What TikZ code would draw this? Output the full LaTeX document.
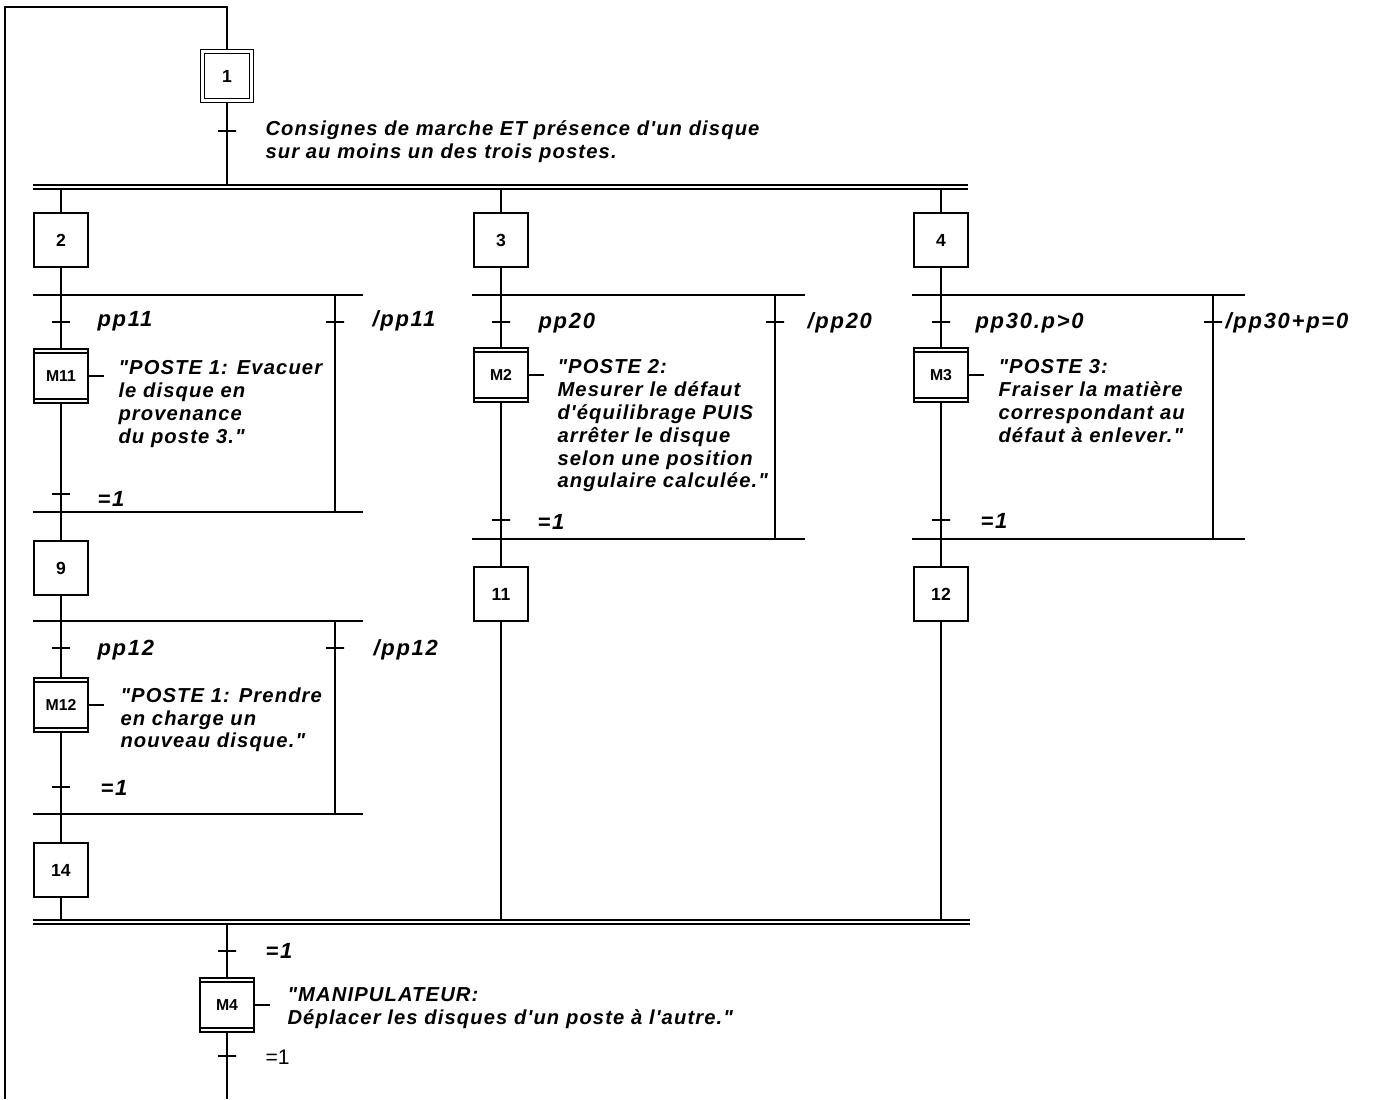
\documentclass[tikz,border=0pt]{standalone}
\usepackage{fontspec}
\setmainfont{Liberation Sans}
\newfontfamily\grafcetfont{Liberation Sans}[LetterSpace=5.5]
\newfontfamily\condfamily{Liberation Sans}[LetterSpace=8]
\usetikzlibrary{positioning}

\newcommand\actfont{\grafcetfont\fontsize{11.5}{13}\selectfont\bfseries\itshape}
\newcommand\condfont{\condfamily\fontsize{12.5}{14}\selectfont\bfseries\itshape}

\tikzset{
  stepbox/.style={draw, minimum size=1.08cm, inner sep=0pt,
    font=\fontsize{10}{11}\selectfont\bfseries},
  initstep/.style={stepbox, minimum size=0.98cm, double, double distance=2.2pt,
    outer sep=1.7pt},
  macrostep/.style={stepbox, font=\fontsize{9}{10}\selectfont\bfseries,
    path picture={
      \draw ([yshift=-0.08cm]path picture bounding box.north west)
        -- ([yshift=-0.08cm]path picture bounding box.north east);
      \draw ([yshift=0.08cm]path picture bounding box.south west)
        -- ([yshift=0.08cm]path picture bounding box.south east);
    }},
  tick/.style={draw, minimum width=0.36cm, minimum height=0pt, inner sep=0pt,
    outer sep=0pt},
  cond/.style={anchor=base west, inner sep=0pt, font=\condfont},
  action/.style={anchor=north west, inner sep=0pt, align=left, font=\actfont}
}

\begin{document}
\begin{tikzpicture}[x=0.02cm, y=-0.02cm, line width=0.6pt]
  \useasboundingbox (0,0) rectangle (1391,1099);

  % initial step
  \node[initstep] (s1) at (227,76) {1};
  \node[tick] (t1) at (227,131) {};
  \node[action] (c1) at (265,120)
    {Consignes de marche ET présence d'un disque\\sur au moins un des trois postes.};

  % simultaneous divergence
  \coordinate (dl) at (33,185);
  \coordinate (dr) at (968,185);
  \coordinate (dl2) at (33,189);
  \coordinate (dr2) at (968,189);
  \draw (dl) -- (dr) (dl2) -- (dr2);
  \draw (s1) -- (t1) -- (t1 |- dl);

  \node[stepbox] (s2) at (61,240) {2};
  \node[stepbox] (s3) at (501,240) {3};
  \node[stepbox] (s4) at (941,240) {4};
  \draw (s2 |- dl2) -- (s2);
  \draw (s3 |- dl2) -- (s3);
  \draw (s4 |- dl2) -- (s4);

  % Poste 1: evacuer
  \coordinate (p1a) at (33,295);
  \coordinate (p1b) at (363,295);
  \coordinate (p1c) at (33,512);
  \coordinate (p1d) at (363,512);
  \draw (p1a) -- (p1b) (p1c) -- (p1d);
  \node[tick] (t11) at (61,322) {};
  \node[tick] (t11n) at (335,322) {};
  \node[macrostep] (m11) at (61,376) {M11};
  \node[tick] (t11e) at (61,494) {};
  \node[stepbox] (s9) at (61,568) {9};
  \draw (s2) -- (t11) -- (m11) -- (t11e) -- (s9);
  \draw (t11n |- p1b) -- (t11n) -- (t11n |- p1d);
  \node[cond] at (97,326) {pp11};
  \node[cond] at (372,326) {/pp11};
  \node[cond] at (97,506) {=1};
  \node[action] (a11) at (118,360)
    {"POSTE 1: Evacuer\\le disque en\\provenance\\du poste 3."};
  \draw (m11.east) -- ++(15,0);

  % Poste 1: prendre
  \coordinate (p2a) at (33,621);
  \coordinate (p2b) at (363,621);
  \coordinate (p2c) at (33,814);
  \coordinate (p2d) at (363,814);
  \draw (p2a) -- (p2b) (p2c) -- (p2d);
  \node[tick] (t12) at (61,648) {};
  \node[tick] (t12n) at (335,648) {};
  \node[macrostep] (m12) at (61,705) {M12};
  \node[tick] (t12e) at (61,787) {};
  \node[stepbox] (s14) at (61,870) {14};
  \draw (s9) -- (t12) -- (m12) -- (t12e) -- (s14);
  \draw (t12n |- p2b) -- (t12n) -- (t12n |- p2d);
  \node[cond] at (97,655) {pp12};
  \node[cond] at (373,655) {/pp12};
  \node[cond] at (100,795) {=1};
  \node[action] (a12) at (120,687)
    {"POSTE 1: Prendre\\en charge un\\nouveau disque."};
  \draw (m12.east) -- ++(15,0);

  % Poste 2
  \coordinate (p3a) at (472,295);
  \coordinate (p3b) at (805,295);
  \coordinate (p3c) at (472,539);
  \coordinate (p3d) at (805,539);
  \draw (p3a) -- (p3b) (p3c) -- (p3d);
  \node[tick] (t20) at (501,322) {};
  \node[tick] (t20n) at (775,322) {};
  \node[macrostep] (m2) at (501,375) {M2};
  \node[tick] (t20e) at (501,520) {};
  \node[stepbox] (s11) at (501,594) {11};
  \draw (s3) -- (t20) -- (m2) -- (t20e) -- (s11);
  \draw (t20n |- p3b) -- (t20n) -- (t20n |- p3d);
  \node[cond] at (538,328) {pp20};
  \node[cond] at (807,328) {/pp20};
  \node[cond] at (537,529) {=1};
  \node[action] (a2) at (557,359)
    {"POSTE 2:\\Mesurer le défaut\\d'équilibrage PUIS\\arrêter le disque\\selon une position\\angulaire calculée."};
  \draw (m2.east) -- ++(15,0);

  % Poste 3
  \coordinate (p4a) at (912,295);
  \coordinate (p4b) at (1245,295);
  \coordinate (p4c) at (912,539);
  \coordinate (p4d) at (1245,539);
  \draw (p4a) -- (p4b) (p4c) -- (p4d);
  \node[tick] (t30) at (941,322) {};
  \node[tick] (t30n) at (1213,322) {};
  \node[macrostep] (m3) at (941,375) {M3};
  \node[tick] (t30e) at (941,520) {};
  \node[stepbox] (s12) at (941,594) {12};
  \draw (s4) -- (t30) -- (m3) -- (t30e) -- (s12);
  \draw (t30n |- p4b) -- (t30n) -- (t30n |- p4d);
  \node[cond] at (975,328) {pp30.p>0};
  \node[cond] at (1225,328) {/pp30+p=0};
  \node[cond] at (980,528) {=1};
  \node[action] (a3) at (998,359)
    {"POSTE 3:\\Fraiser la matière\\correspondant au\\défaut à enlever."};
  \draw (m3.east) -- ++(15,0);

  % simultaneous convergence
  \coordinate (jl) at (33,920);
  \coordinate (jr) at (970,920);
  \coordinate (jl2) at (33,924);
  \coordinate (jr2) at (970,924);
  \draw (jl) -- (jr) (jl2) -- (jr2);
  \draw (s14) -- (s14 |- jl);
  \draw (s11) -- (s11 |- jl);
  \draw (s12) -- (s12 |- jl);

  % manipulateur
  \node[tick] (t4) at (227,951) {};
  \node[macrostep] (m4) at (227,1005) {M4};
  \node[tick] (t5) at (227,1056) {};
  \coordinate (lpd) at (227,1099);
  \draw (t4 |- jl2) -- (t4) -- (m4) -- (t5) -- (lpd);
  \node[cond] at (265,958) {=1};
  \node[anchor=base west, inner sep=0pt, font=\fontsize{12}{14}\selectfont] at (265,1064) {=1};
  \node[action] (a4) at (287,987)
    {"MANIPULATEUR:\\Déplacer les disques d'un poste à l'autre."};
  \draw (m4.east) -- ++(15,0);

  % return loop
  \coordinate (lpa) at (5,1099);
  \coordinate (lpb) at (5,7);
  \coordinate (lpc) at (227,7);
  \draw (lpa) -- (lpb) -- (lpc) -- (s1);
\end{tikzpicture}
\end{document}
